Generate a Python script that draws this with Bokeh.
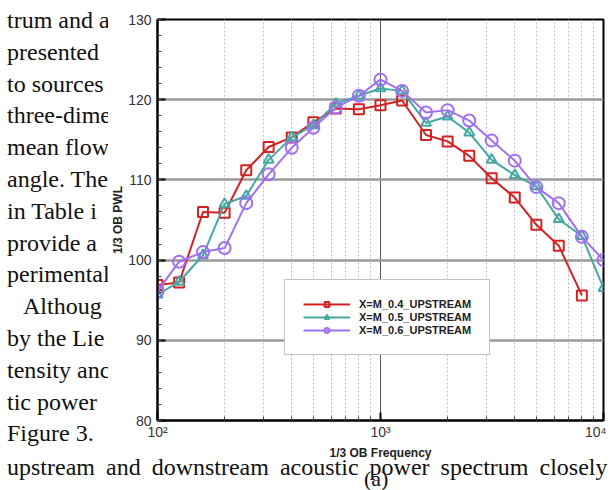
from bokeh.plotting import figure
from bokeh.models import FixedTicker, SingleIntervalTicker, Range1d, Legend, Div
from bokeh.layouts import row, column
from bokeh.embed import file_html
from bokeh.resources import INLINE

freq = [100, 125, 160, 200, 250, 315, 400, 500, 630, 800, 1000, 1250, 1600,
        2000, 2500, 3150, 4000, 5000, 6300, 8000, 10000]
m04 = [96.9, 97.2, 106.0, 105.9, 111.2, 114.1, 115.3, 117.2, 118.9, 118.8, 119.3,
       119.9, 115.6, 114.8, 113.0, 110.2, 107.8, 104.4, 101.8, 95.6]
m05 = [95.7, 97.3, 100.6, 107.0, 108.0, 112.5, 115.3, 116.8, 119.5, 120.5, 121.4,
       121.1, 117.1, 117.9, 115.9, 112.5, 110.6, 109.2, 105.1, 103.0, 96.5]
m06 = [96.1, 99.8, 101.0, 101.5, 107.1, 110.7, 114.0, 116.5, 119.0, 120.5, 122.5,
       121.1, 118.4, 118.7, 117.4, 114.9, 112.4, 109.1, 107.1, 102.9, 100.0]
series_names = ["X=M_0.4_UPSTREAM", "X=M_0.5_UPSTREAM", "X=M_0.6_UPSTREAM"]
x_ticks = [100, 1000, 10000]
x_tick_labels = ["10\u00b2", "10\u00b3", "10\u2074"]
x_minor = [200, 300, 400, 500, 600, 700, 800, 900,
           2000, 3000, 4000, 5000, 6000, 7000, 8000, 9000]

page_lines = ["trum and a", "presented", "to sources", "three-dime", "mean flow",
              "angle. The", "in Table i", "provide a", "perimental", "Althoug",
              "by the Lie", "tensity anc", "tic power", "Figure 3."]
bottom_line = "upstream and downstream acoustic power spectrum closely"
caption = "(a)"

LEFT_W = 108
FIG_W, FIG_H = 498, 462
BOT_H = 28

p = figure(width=FIG_W, height=FIG_H, x_axis_type="log", output_backend="svg",
           toolbar_location=None,
           x_range=Range1d(100, 10000), y_range=Range1d(80, 130),
           min_border_left=48, min_border_right=3, min_border_top=19,
           min_border_bottom=39, margin=(0, 0, 0, 0))
p.background_fill_color = "white"
p.border_fill_color = "white"
p.outline_line_color = "black"
p.outline_line_width = 2

# axes
p.xaxis.ticker = FixedTicker(ticks=x_ticks, minor_ticks=x_minor)
p.xaxis.major_label_overrides = {t: s for t, s in zip(x_ticks, x_tick_labels)}
p.yaxis.ticker = SingleIntervalTicker(interval=10, num_minor_ticks=5)
for ax in (p.xaxis[0], p.yaxis[0]):
    ax.axis_line_color = "black"
    ax.axis_line_width = 2
    ax.major_tick_in = 8
    ax.major_tick_out = 0
    ax.minor_tick_in = 4
    ax.minor_tick_out = 0
    ax.major_tick_line_color = "black"
    ax.major_tick_line_width = 2
    ax.minor_tick_line_color = "#444444"
    ax.major_label_text_font = "Liberation Sans"
    ax.major_label_text_font_size = "14px"
    ax.major_label_text_color = "#333333"
    ax.axis_label_text_font = "Liberation Sans"
    ax.axis_label_text_font_style = "bold"
    ax.axis_label_text_font_size = "12px"
    ax.axis_label_text_color = "#222222"
p.xaxis.axis_label = "1/3 OB Frequency"
p.yaxis.axis_label = "1/3 OB PWL"
p.xaxis.major_label_standoff = 3
p.xaxis.axis_label_standoff = 3
p.yaxis.major_label_standoff = 6
p.yaxis.axis_label_standoff = 0

# grids
p.xgrid.grid_line_color = "#555555"
p.xgrid.grid_line_width = 1
p.xgrid.minor_grid_line_color = "#bbbbbb"
p.xgrid.minor_grid_line_dash = "2 2"
p.xgrid.minor_grid_line_width = 1
p.ygrid.grid_line_color = "#9a9a9a"
p.ygrid.grid_line_width = 2.5

colors = ["#d42222", "#45a8a4", "#a070f0"]
markers = ["square", "triangle", "circle"]
sizes = [10, 10, 12]
data = [m04, m05, m06]
items = []
for vals, c, mk, sz, name in zip(data, colors, markers, sizes, series_names):
    xs = freq[:len(vals)]
    r1 = p.line(xs, vals, line_color=c, line_width=2)
    r2 = p.scatter(xs, vals, marker=mk, size=sz, line_color=c, line_width=2,
                   fill_color=None)
    items.append((name, [r1, r2]))

legend = Legend(items=items, location=(127, 65))
legend.border_line_color = "#888888"
legend.border_line_width = 1
legend.background_fill_color = "white"
legend.background_fill_alpha = 1
legend.padding = 18
legend.margin = 0
legend.spacing = 1
legend.glyph_width = 47
legend.glyph_height = 12
legend.label_height = 12
legend.label_standoff = 9
legend.label_text_font = "Liberation Sans"
legend.label_text_font_style = "bold"
legend.label_text_font_size = "11px"
legend.label_text_color = "#222222"
p.add_layout(legend, "center")

# surrounding page text (HTML)
serif = "font-family:'Liberation Serif','Times New Roman',serif;color:#111;"
parts = []
for i, t in enumerate(page_lines):
    left = 23 if i == 9 else 7
    top = 24 + 31.8 * i - 16
    parts.append(f'<div style="position:absolute;left:{left}px;top:{top:.1f}px;'
                 f'white-space:nowrap;line-height:1;font-size:24px;">{t}</div>')
left_html = (f'<div style="position:relative;width:{LEFT_W}px;height:{FIG_H}px;'
             f'overflow:hidden;{serif}">' + "".join(parts) + '</div>')
left_div = Div(text=left_html, width=LEFT_W, height=FIG_H, margin=(0, 0, 0, 0))

bot_html = (f'<div style="position:relative;width:{LEFT_W + FIG_W}px;height:{BOT_H}px;'
            f'overflow:visible;{serif}">'
            f'<div style="position:absolute;left:7px;top:{471 - FIG_H - 16}px;'
            f'white-space:nowrap;line-height:1;font-size:24px;word-spacing:5px;">{bottom_line}</div>'
            f'<div style="position:absolute;left:364px;top:{483 - FIG_H - 15}px;'
            f'white-space:nowrap;line-height:1;font-size:22px;">{caption}</div>'
            '</div>')
bot_div = Div(text=bot_html, width=LEFT_W + FIG_W, height=BOT_H, margin=(0, 0, 0, 0))

layout = column(row(left_div, p, margin=(0, 0, 0, 0), spacing=0),
                bot_div, margin=(0, 0, 0, 0), spacing=0)
open("out.html", "w").write(file_html(layout, INLINE))
